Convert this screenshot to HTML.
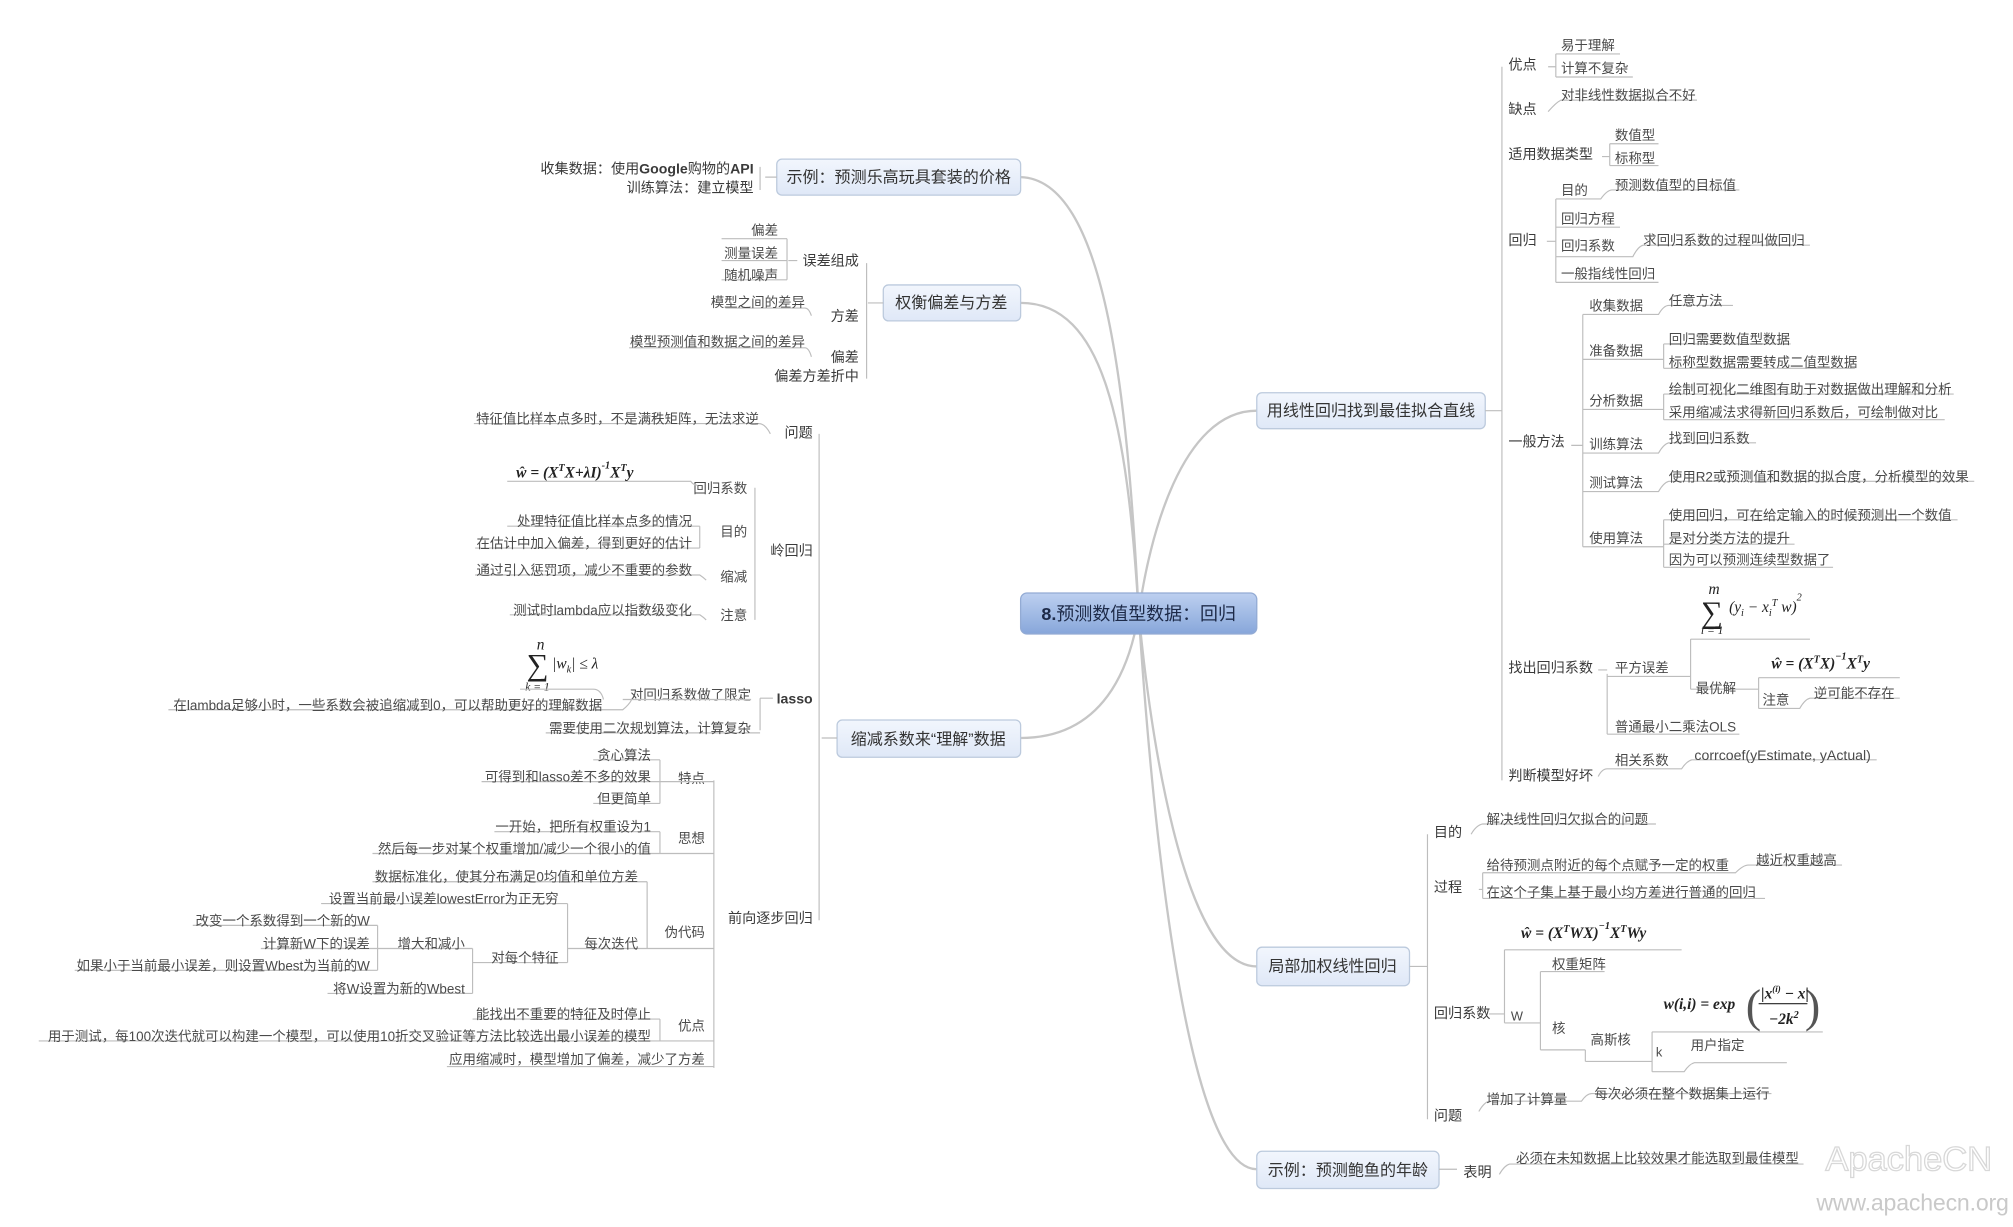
<!DOCTYPE html>
<html><head><meta charset="utf-8"><style>
html,body{margin:0;padding:0;background:#fff;width:2013px;height:1227px;overflow:hidden}
svg{display:block}
text{font-family:"Liberation Sans","Noto Sans CJK SC",sans-serif;fill:#4a4a4a;font-size:10.5px}
.m{font-size:11px;fill:#3a3a3a}
.e{text-anchor:end}
.b{font-size:12.5px;fill:#333;text-anchor:middle}
.f{font-family:"Liberation Serif",serif;font-style:italic;fill:#222;font-size:12px}
.l{stroke:#bdbdbd;stroke-width:0.9;fill:none}
.c{stroke:#c6c6c6;stroke-width:1.8;fill:none}
</style></head><body>
<svg width="2013" height="1227" viewBox="0 0 1568 956" xmlns="http://www.w3.org/2000/svg">
<defs>
<linearGradient id="g1" x1="0" y1="0" x2="0" y2="1"><stop offset="0" stop-color="#f2f6fd"/><stop offset="1" stop-color="#dfe8f7"/></linearGradient>
<linearGradient id="g2" x1="0" y1="0" x2="0" y2="1"><stop offset="0" stop-color="#bdd0f0"/><stop offset="1" stop-color="#87a6da"/></linearGradient>
</defs>
<path class="c" d="M887,478 C878,300 860,140 795,138"/>
<path class="c" d="M887,478 C878,330 860,236 795,236"/>
<path class="c" d="M887,478 C880,520 860,575 795,575"/>
<path class="c" d="M887,478 C895,420 920,320 979,320"/>
<path class="c" d="M887,478 C895,560 920,753 979,753"/>
<path class="c" d="M887,478 C895,600 920,911 979,911"/>
<rect x="795" y="462" width="184" height="32" rx="5" fill="url(#g2)" stroke="#93abd4"/>
<text x="887" y="483" style="font-size:14px;fill:#1d2a48;text-anchor:middle"><tspan font-weight="bold">8.</tspan>预测数值型数据：回归</text>
<rect x="605" y="124" width="190" height="28" rx="4" fill="url(#g1)" stroke="#bccadd"/><text class="b" x="700" y="142">示例：预测乐高玩具套装的价格</text>
<rect x="688" y="222" width="107" height="28" rx="4" fill="url(#g1)" stroke="#bccadd"/><text class="b" x="741" y="240">权衡偏差与方差</text>
<rect x="652" y="561" width="143" height="29" rx="4" fill="url(#g1)" stroke="#bccadd"/><text class="b" x="723" y="580">缩减系数来“理解”数据</text>
<rect x="979" y="306" width="178" height="28" rx="4" fill="url(#g1)" stroke="#bccadd"/><text class="b" x="1068" y="324">用线性回归找到最佳拟合直线</text>
<rect x="979" y="738" width="119" height="30" rx="4" fill="url(#g1)" stroke="#bccadd"/><text class="b" x="1038" y="757">局部加权线性回归</text>
<rect x="979" y="897" width="142" height="29" rx="4" fill="url(#g1)" stroke="#bccadd"/><text class="b" x="1050" y="916">示例：预测鲍鱼的年龄</text>

<path class="l" d="M605,138 H596 M592,130 V148"/>
<text class="m e" x="587" y="135">收集数据：使用<tspan font-weight="bold">Google</tspan>购物的<tspan font-weight="bold">API</tspan></text>
<text class="m e" x="587" y="150">训练算法：建立模型</text>

<path class="l" d="M688,236 H676 M675,205 V295"/>
<text class="m e" x="669" y="207">误差组成</text><text class="m e" x="669" y="250">方差</text><text class="m e" x="669" y="282">偏差</text><text class="m e" x="669" y="297">偏差方差折中</text>
<path class="l" d="M621,203 H614 M613,186 V218 M562,186 H613 M562,203 H613 M562,218 H613"/>
<text class="e" x="606" y="183">偏差</text><text class="e" x="606" y="201">测量误差</text><text class="e" x="606" y="218">随机噪声</text>
<path class="l" d="M565,240 H627 Q630,240 632,246"/><text class="e" x="627" y="239">模型之间的差异</text>
<path class="l" d="M490,271 H627 Q630,271 632,278"/><text class="e" x="627" y="270">模型预测值和数据之间的差异</text>

<path class="l" d="M652,575 H640 M638,338 V717"/>
<text class="m e" x="633" y="341">问题</text><text class="m e" x="633" y="433">岭回归</text><text class="m e" x="633" y="548" font-weight="bold">lasso</text><text class="m e" x="633" y="719">前向逐步回归</text>
<path class="l" d="M369,330 H591 Q596,330 600,338"/><text class="e" x="591" y="330">特征值比样本点多时，不是满秩矩阵，无法求逆</text>
<path class="l" d="M588,380 V483"/>
<text class="e" x="582" y="384">回归系数</text><text class="e" x="582" y="418">目的</text><text class="e" x="582" y="453">缩减</text><text class="e" x="582" y="483">注意</text>
<path class="l" d="M395,375 H538 Q540,378 543,378"/>
<text class="f" x="402" y="372" font-weight="bold">ŵ = (X<tspan dy="-5" font-size="8">T</tspan><tspan dy="5">X+λI)</tspan><tspan dy="-7" font-size="8">-1</tspan><tspan dy="7">X</tspan><tspan dy="-5" font-size="8">T</tspan><tspan dy="5">y</tspan></text>
<path class="l" d="M395,410 H545 M545,410 V427 M370,427 H545"/>
<text class="e" x="539" y="410">处理特征值比样本点多的情况</text><text class="e" x="539" y="427">在估计中加入偏差，得到更好的估计</text>
<path class="l" d="M370,448 H545 Q548,450 550,452"/><text class="e" x="539" y="448">通过引入惩罚项，减少不重要的参数</text>
<path class="l" d="M397,479 H545 Q548,481 550,483"/><text class="e" x="539" y="479">测试时lambda应以指数级变化</text>
<path class="l" d="M592,544 V569 M592,544 H602"/>
<text x="410" y="526" style="font-family:'Liberation Serif',serif;font-size:24px;fill:#222">∑</text><text class="f" x="418" y="506" font-size="8">n</text><text x="409" y="538" style="font-family:'Liberation Serif',serif;font-style:italic;font-size:9px;fill:#222">k = 1</text>
<text class="f" x="430" y="521">|w<tspan dy="3" font-size="8">k</tspan><tspan dy="-3">| ≤ λ</tspan></text>
<path class="l" d="M405,537 H462 Q468,537 470,545"/>
<text class="e" x="585" y="545">对回归系数做了限定</text>
<path class="l" d="M131,553 H485 Q490,549 492,545 M485,545 H585"/><text class="e" x="469" y="553">在lambda足够小时，一些系数会被追缩减到0，可以帮助更好的理解数据</text>
<path class="l" d="M425,571 H592"/><text class="e" x="585" y="571">需要使用二次规划算法，计算复杂</text>
<path class="l" d="M556,608 V832"/>
<text class="e" x="549" y="610">特点</text><text class="e" x="549" y="657">思想</text><text class="e" x="549" y="730">伪代码</text><text class="e" x="549" y="803">优点</text>
<path class="l" d="M348,831 H556"/><text class="e" x="549" y="829">应用缩减时，模型增加了偏差，减少了方差</text>
<path class="l" d="M514,592 V626 M462,592 H514 M375,609 H556 M462,626 H514"/>
<text class="e" x="507" y="592">贪心算法</text><text class="e" x="507" y="609">可得到和lasso差不多的效果</text><text class="e" x="507" y="626">但更简单</text>
<path class="l" d="M514,648 V665 M385,648 H514 M290,665 H556"/>
<text class="e" x="507" y="648">一开始，把所有权重设为1</text><text class="e" x="507" y="665">然后每一步对某个权重增加/减少一个很小的值</text>
<path class="l" d="M504,687 V739 M290,687 H504 M442,739 H556"/>
<text class="e" x="497" y="687">数据标准化，使其分布满足0均值和单位方差</text><text class="e" x="497" y="739">每次迭代</text>
<path class="l" d="M442,704 V750 M250,704 H442 M368,750 H442"/>
<text class="e" x="435" y="704">设置当前最小误差lowestError为正无穷</text><text class="e" x="435" y="750">对每个特征</text>
<path class="l" d="M368,739 V774 M294,739 H368 M255,774 H368"/>
<text class="e" x="362" y="739">增大和减小</text><text class="e" x="362" y="774">将W设置为新的Wbest</text>
<path class="l" d="M294,721 V756 M150,721 H294 M203,739 H294 M58,756 H294"/>
<text class="e" x="288" y="721">改变一个系数得到一个新的W</text><text class="e" x="288" y="739">计算新W下的误差</text><text class="e" x="288" y="756">如果小于当前最小误差，则设置Wbest为当前的W</text>
<path class="l" d="M514,794 V811 M368,794 H514 M30,811 H556"/>
<text class="e" x="507" y="794">能找出不重要的特征及时停止</text><text class="e" x="507" y="811">用于测试，每100次迭代就可以构建一个模型，可以使用10折交叉验证等方法比较选出最小误差的模型</text>

<path class="l" d="M1157,320 H1170 M1170,52 V608"/>
<text class="m" x="1175" y="54">优点</text><text class="m" x="1175" y="89">缺点</text><text class="m" x="1175" y="124">适用数据类型</text><text class="m" x="1175" y="191">回归</text><text class="m" x="1175" y="348">一般方法</text><text class="m" x="1175" y="524">找出回归系数</text><text class="m" x="1175" y="608">判断模型好坏</text>
<path class="l" d="M1206,52 H1212 M1212,42 V60 M1212,42 H1262 M1212,60 H1272"/>
<text x="1216" y="39">易于理解</text><text x="1216" y="57">计算不复杂</text>
<path class="l" d="M1206,87 Q1212,80 1216,78 H1322"/><text x="1216" y="78">对非线性数据拟合不好</text>
<path class="l" d="M1248,122 H1254 M1254,112 V129 M1254,112 H1292 M1254,129 H1292"/>
<text x="1258" y="109">数值型</text><text x="1258" y="127">标称型</text>
<path class="l" d="M1205,188 H1212 M1212,155 V220 M1212,155 H1247 Q1252,148 1256,148 H1355 M1212,177 H1262 M1212,200 H1272 Q1276,192 1280,191 H1410 M1212,220 H1292"/>
<text x="1216" y="152">目的</text><text x="1258" y="148">预测数值型的目标值</text><text x="1216" y="174">回归方程</text><text x="1216" y="195">回归系数</text><text x="1280" y="191">求回归系数的过程叫做回归</text><text x="1216" y="217">一般指线性回归</text>
<path class="l" d="M1224,347 H1233 M1233,245 V426"/>
<text x="1238" y="242">收集数据</text><text x="1238" y="277">准备数据</text><text x="1238" y="316">分析数据</text><text x="1238" y="350">训练算法</text><text x="1238" y="380">测试算法</text><text x="1238" y="423">使用算法</text>
<path class="l" d="M1233,245 H1292 Q1296,238 1300,238 H1350"/><text x="1300" y="238">任意方法</text>
<path class="l" d="M1233,280 H1296 M1296,268 V287 M1296,268 H1395 M1296,287 H1445"/><text x="1300" y="268">回归需要数值型数据</text><text x="1300" y="286">标称型数据需要转成二值型数据</text>
<path class="l" d="M1233,319 H1296 M1296,307 V327 M1296,307 H1522 M1296,327 H1515"/><text x="1300" y="307">绘制可视化二维图有助于对数据做出理解和分析</text><text x="1300" y="325">采用缩减法求得新回归系数后，可绘制做对比</text>
<path class="l" d="M1233,353 H1292 Q1296,346 1300,345 H1368"/><text x="1300" y="345">找到回归系数</text>
<path class="l" d="M1233,383 H1292 Q1296,376 1300,375 H1538"/><text x="1300" y="375">使用R2或预测值和数据的拟合度，分析模型的效果</text>
<path class="l" d="M1233,426 H1296 M1296,405 V442 M1296,405 H1525 M1296,424 H1398 M1296,442 H1428"/><text x="1300" y="405">使用回归，可在给定输入的时候预测出一个数值</text><text x="1300" y="423">是对分类方法的提升</text><text x="1300" y="440">因为可以预测连续型数据了</text>
<path class="l" d="M1245,522 H1252 M1252,525 V572 M1252,572 H1355 M1252,527 H1317 M1317,498 V537 M1317,498 H1410 M1317,537 H1370"/>
<text x="1258" y="524">平方误差</text><text x="1258" y="570">普通最小二乘法OLS</text><text x="1321" y="540">最优解</text>
<text x="1325" y="485" style="font-family:'Liberation Serif',serif;font-size:24px;fill:#222">∑</text><text class="f" x="1331" y="463" font-size="8">m</text><text x="1325" y="494" style="font-family:'Liberation Serif',serif;font-style:italic;font-size:9px;fill:#222">i = 1</text>
<text class="f" x="1347" y="477">(y<tspan dy="3" font-size="8">i</tspan><tspan dy="-3"> − x</tspan><tspan dy="3" font-size="8">i</tspan><tspan dy="-8" font-size="8">T</tspan><tspan dy="5"> w)</tspan><tspan dy="-9" font-size="8">2</tspan></text>
<text class="f" x="1380" y="521" font-weight="bold">ŵ = (X<tspan dy="-5" font-size="8">T</tspan><tspan dy="5">X)</tspan><tspan dy="-7" font-size="8">−1</tspan><tspan dy="7">X</tspan><tspan dy="-5" font-size="8">T</tspan><tspan dy="5">y</tspan></text>
<path class="l" d="M1370,528 H1480 M1370,528 V552 M1370,552 H1402 Q1406,545 1410,544 H1480"/>
<text x="1373" y="549">注意</text><text x="1413" y="544">逆可能不存在</text>
<path class="l" d="M1245,605 Q1248,599 1252,599 H1310 Q1314,593 1318,592 H1462"/>
<text x="1258" y="596">相关系数</text><text x="1320" y="592" style="font-size:11px">corrcoef(yEstimate, yActual)</text>

<path class="l" d="M1098,753 H1112 M1112,650 V872"/>
<text class="m" x="1117" y="652">目的</text><text class="m" x="1117" y="695">过程</text><text class="m" x="1117" y="793">回归系数</text><text class="m" x="1117" y="873">问题</text>
<path class="l" d="M1146,650 Q1150,643 1155,642 H1290"/><text x="1158" y="642">解决线性回归欠拟合的问题</text>
<path class="l" d="M1152,693 H1155 M1155,680 V700 M1155,680 H1352 Q1358,674 1362,674 H1435 M1155,700 H1375"/>
<text x="1158" y="678">给待预测点附近的每个点赋予一定的权重</text><text x="1368" y="674">越近权重越高</text><text x="1158" y="699">在这个子集上基于最小均方差进行普通的回归</text>
<text class="f" x="1185" y="731" font-weight="bold">ŵ = (X<tspan dy="-5" font-size="8">T</tspan><tspan dy="5">WX)</tspan><tspan dy="-7" font-size="8">−1</tspan><tspan dy="7">X</tspan><tspan dy="-5" font-size="8">T</tspan><tspan dy="5">Wy</tspan></text>
<path class="l" d="M1160,790 H1172 M1172,740 V797 M1172,740 H1310 M1172,797 H1200"/>
<text x="1177" y="795" style="font-size:10px">W</text>
<path class="l" d="M1200,757 V818 M1200,757 H1250 M1200,818 H1235"/>
<text x="1209" y="755">权重矩阵</text><text x="1209" y="805">核</text>
<path class="l" d="M1235,818 V827 M1235,827 H1287 M1287,804 V835 M1287,804 H1420 M1287,835 H1312 Q1316,829 1320,828 H1392"/>
<text x="1239" y="814">高斯核</text><text x="1290" y="823" style="font-size:10px">k</text><text x="1317" y="818">用户指定</text>
<text class="f" x="1296" y="786" font-weight="bold">w(i,i) = exp</text>
<text x="1360" y="796" style="font-family:'Liberation Serif',serif;font-size:36px;fill:#555">(</text><text x="1406" y="796" style="font-family:'Liberation Serif',serif;font-size:36px;fill:#555">)</text>
<text class="f" x="1372" y="778" font-weight="bold">|x<tspan dy="-5" font-size="7">(i)</tspan><tspan dy="5"> − x|</tspan></text>
<path d="M1370,782 H1408" stroke="#222" stroke-width="0.8"/>
<text class="f" x="1378" y="798" font-weight="bold">−2k<tspan dy="-5" font-size="8">2</tspan></text>
<path class="l" d="M1152,866 Q1156,859 1160,858 H1232 Q1236,852 1240,852 H1380"/>
<text x="1158" y="860">增加了计算量</text><text x="1242" y="856">每次必须在整个数据集上运行</text>
<path class="l" d="M1121,911 H1135"/>
<text class="m" x="1140" y="917">表明</text>
<path class="l" d="M1168,915 Q1172,908 1176,907 H1405"/><text x="1181" y="906">必须在未知数据上比较效果才能选取到最佳模型</text>
<text x="1422" y="912" style="font-size:27px;fill:#fff;stroke:#d8d8d8;stroke-width:1" textLength="130">ApacheCN</text>
<text x="1415" y="943" style="font-size:18px;fill:#c9c9c9" textLength="150">www.apachecn.org</text>
</svg>
</body></html>
